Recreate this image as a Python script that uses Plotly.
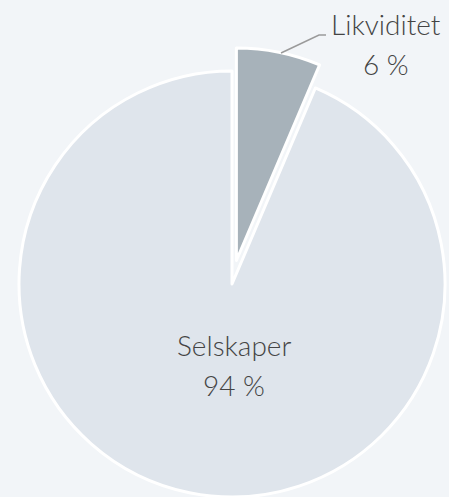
import math
import plotly.graph_objects as go

# ---- data ----
labels = ["Likviditet", "Selskaper"]
values = [6.4, 93.6]
value_text = ["6 %", "94 %"]

# ---- style ----
W, H = 449, 497
BG = "#f2f5f8"
COLORS = ["#a7b2ba", "#dfe5ec"]
TRANSP = "rgba(0,0,0,0)"
TEXT = "#444444"
FONT = "Lato"

# pie geometry (pixels)
cx, cy, r = 232, 284, 213
pull_px = 24
frac0 = values[0] / sum(values)
mid = math.radians(360 * frac0 / 2)
pcx = cx + pull_px * math.sin(mid)
pcy = cy - pull_px * math.cos(mid)


def dom(x0, x1, y0, y1):
    x0, x1 = max(0, x0), min(W, x1)
    y0, y1 = max(0, y0), min(H, y1)
    return dict(x=[x0 / W, x1 / W], y=[1 - y1 / H, 1 - y0 / H])


fig = go.Figure()
# main (Selskaper) slice
fig.add_trace(go.Pie(
    labels=labels, values=values, sort=False, direction="clockwise", rotation=0,
    marker=dict(colors=[TRANSP, COLORS[1]],
                line=dict(color=[TRANSP, "#ffffff"], width=3)),
    textinfo="none", hoverinfo="skip", showlegend=False,
    domain=dom(cx - r, cx + r, cy - r, cy + r),
))
# pulled (Likviditet) slice
fig.add_trace(go.Pie(
    labels=labels, values=values, sort=False, direction="clockwise", rotation=0,
    marker=dict(colors=[COLORS[0], TRANSP],
                line=dict(color=["#ffffff", TRANSP], width=3)),
    textinfo="none", hoverinfo="skip", showlegend=False,
    domain=dom(pcx - r, pcx + r, pcy - r, pcy + r),
))

# labels (one annotation per line)
label_pos = [(386, 24, 64), (234, 345, 385)]
for i, (x, y1, y2) in enumerate(label_pos):
    for txt, y in ((labels[i], y1), (value_text[i], y2)):
        fig.add_annotation(x=x / W, y=1 - y / H, xref="paper", yref="paper",
                           text=txt, showarrow=False,
                           xanchor="center", yanchor="middle",
                           font=dict(family=FONT, size=28, color=TEXT, weight=300))

# connector line
pts = [(281, 53), (319, 35), (326, 35)]
path = "M " + " L ".join(f"{x / W},{1 - y / H}" for x, y in pts)
fig.add_shape(type="path", path=path, xref="paper", yref="paper",
              line=dict(color="#9a9a9a", width=1.5))

fig.update_layout(
    width=W, height=H, margin=dict(l=0, r=0, t=0, b=0),
    paper_bgcolor=BG, plot_bgcolor=BG,
    font=dict(family=FONT, color=TEXT),
)
fig.write_html(
    "out.html",
    config={"displayModeBar": False},
    post_script="document.body.style.margin='0';document.body.style.overflow='hidden';"
                "document.body.style.background='" + BG + "';",
)
